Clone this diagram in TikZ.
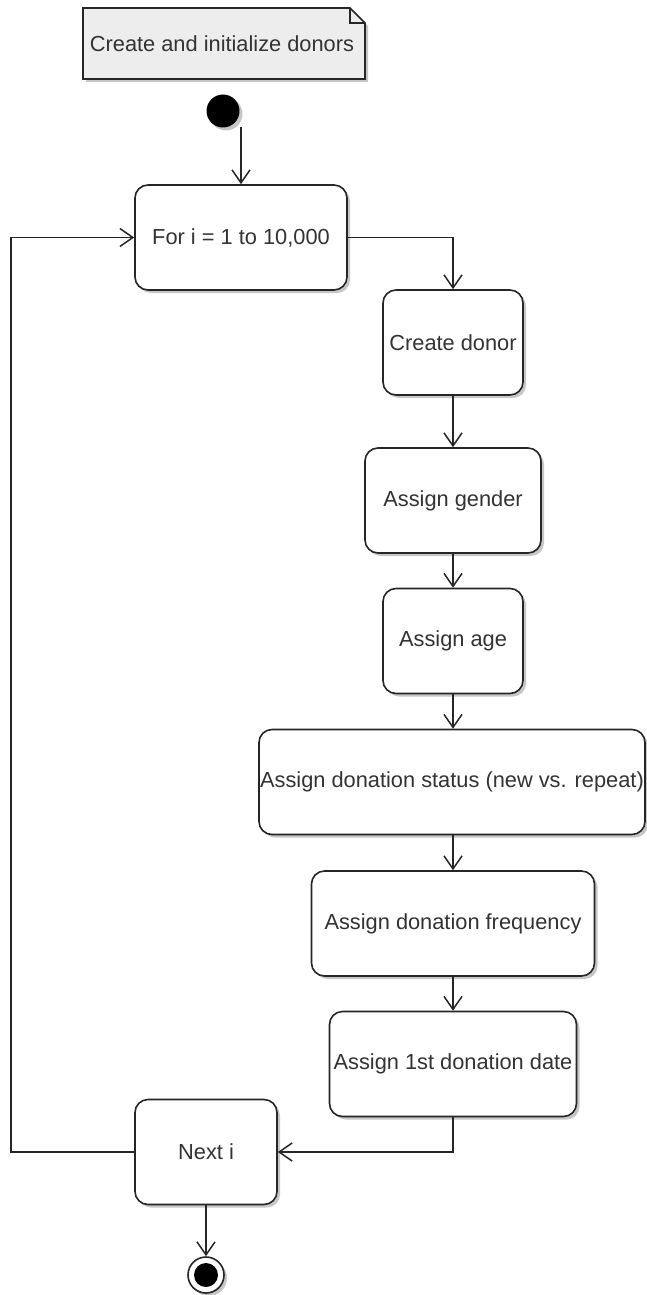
\documentclass[tikz,border=0pt]{standalone}
\usepackage{fontspec}
\setmainfont{Liberation Sans}
\usetikzlibrary{arrows.meta,shadows}
\tikzset{
  shd/.style={drop shadow={shadow xshift=3pt,shadow yshift=-3pt,fill=black,opacity=0.22}},
  txt/.style={text=black!80,font=\fontsize{21.8}{26}\selectfont},
  act/.style={draw=black!85,line width=1.6pt,rounded corners=13pt,fill=white,shd,
    minimum height=105pt,inner sep=0pt,align=center,txt},
  arr/.style={line width=1.5pt,draw=black!85,-{Straight Barb[length=13pt,width=18pt,line width=1.5pt]}},
}
\begin{document}
\begin{tikzpicture}[x=1pt,y=-1pt]
\useasboundingbox[fill=white] (0,0) rectangle (646,1295);
% note
\filldraw[fill=black!7,draw=black!85,line width=1.6pt,shd]
  (83,8) -- (350,8) -- (365,23) -- (365,79) -- (83,79) -- cycle;
\draw[line width=1.3pt,draw=black!85] (350,8) -- (350,23) -- (365,23);
\node[txt,inner sep=0pt] (note) at (222,44) {Create and initialize donors};
% start
\node[circle,fill=black,minimum size=33pt,inner sep=0pt,shd] (start) at (223,111) {};
\coordinate (s1) at (241,127);
% activities
\node[act,minimum width=212pt] (for) at (241,237.5) {For i = 1 to 10,000};
\node[act,minimum width=140pt] (create) at (453,342.5) {Create donor};
\node[act,minimum width=176pt] (gender) at (453,500.5) {Assign gender};
\node[act,minimum width=140pt] (age) at (453,641) {Assign age};
\node[act,minimum width=386pt] (status) at (452,782) {Assign donation status (new vs. repeat)};
\node[act,minimum width=283pt] (freq) at (453,923.5) {Assign donation frequency};
\node[act,minimum width=247pt] (date) at (453,1064) {Assign 1st donation date};
\node[act,minimum width=142pt] (next) at (206,1152) {Next i};
% end
\node[circle,draw=black!85,line width=1.6pt,fill=white,minimum size=36pt,inner sep=0pt,shd] (end) at (206,1275) {};
\node[circle,fill=black,minimum size=24pt,inner sep=0pt] (endin) at (end.center) {};
% connectors
\draw[arr] (s1) -- (s1 |- for.north);
\draw[arr] (for.east) -| (create.north);
\draw[arr] (create.south) -- (gender.north);
\draw[arr] (gender.south) -- (age.north);
\draw[arr] (age.south) -- (age.south |- status.north);
\draw[arr] (age.south |- status.south) -- (freq.north);
\draw[arr] (freq.south) -- (date.north);
\draw[arr] (date.south) |- (next.east);
\draw[arr] (next.west) -- ++(-123,0) |- (for.west);
\draw[arr] (next.south) -- (end.north);
\end{tikzpicture}
\end{document}
